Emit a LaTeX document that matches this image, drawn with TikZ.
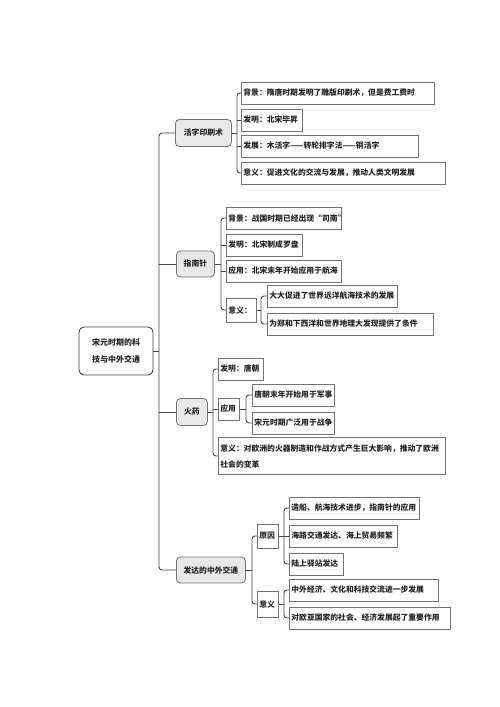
\documentclass[tikz,border=0pt]{standalone}
\usepackage{fontspec}
\setmainfont{Noto Sans CJK SC}
\begin{document}
\begin{tikzpicture}[x=1pt,y=-1pt,
 conn/.style={draw=black!72, line width=0.9pt, rounded corners=3pt},
 leaf/.style={draw=black!55, line width=0.8pt, fill=white, anchor=west, inner xsep=2pt, inner ysep=0pt, minimum height=22pt, align=left, text=black!85, font=\fontsize{7.8}{16}\selectfont\bfseries},
 topic/.style={draw=black!55, line width=0.8pt, fill=black!9, rounded corners=4pt, anchor=west, inner sep=0pt, align=center, text=black!85, font=\fontsize{7.8}{16}\selectfont\bfseries}]
\fill[white] (0,0) rectangle (500,707);
\useasboundingbox (0,0) rectangle (500,707);

% root
\node[draw=black!75, line width=0.9pt, rounded corners=5pt, fill=white, minimum width=74pt, minimum height=48pt, inner sep=0pt, align=center, text=black!85, font=\fontsize{8}{17}\selectfont\bfseries] (root) at (116,351) {宋元时期的科\\技与中外交通};

% level 1
\node[topic, minimum width=56pt, minimum height=27pt] (L1) at (175,133) {活字印刷术};
\node[topic, minimum width=38pt, minimum height=26pt] (L2) at (176,264) {指南针};
\node[topic, minimum width=31pt, minimum height=27pt] (L3) at (176,412) {火药};
\node[topic, minimum width=69pt, minimum height=26pt] (L4) at (176,570) {发达的中外交通};

% 活字印刷术
\node[leaf, text width=189pt] (a1) at (241,93) {背景：隋唐时期发明了雕版印刷术，但是费工费时};
\node[leaf, text width=57pt] (a2) at (241,120) {发明：北宋毕昇};
\node[leaf, text width=173pt] (a3) at (241,146) {发展：木活字——转轮排字法——铜活字};
\node[leaf, text width=200pt] (a4) at (241,173) {意义：促进文化的交流与发展，推动人类文明发展};

% 指南针
\node[leaf, text width=111pt] (b1) at (226,218) {背景：战国时期已经出现“司南”};
\node[leaf, text width=72pt] (b2) at (226,245) {发明：北宋制成罗盘};
\node[leaf, text width=111pt] (b3) at (226,271) {应用：北宋末年开始应用于航海};
\node[leaf, text width=26pt, minimum height=24pt] (b4) at (226,310) {意义：};
\node[leaf, text width=126pt] (b5) at (267,296) {大大促进了世界远洋航海技术的发展};
\node[leaf, text width=162pt] (b6) at (267,324) {为郑和下西洋和世界地理大发现提供了条件};

% 火药
\node[leaf, text width=41pt] (c1) at (218,369) {发明：唐朝};
\node[leaf, text width=17pt] (c2) at (218,409) {应用};
\node[leaf, text width=78pt] (c3) at (252,395) {唐朝末年开始用于军事};
\node[leaf, text width=78pt] (c4) at (252,423) {宋元时期广泛用于战争};
\node[leaf, text width=223pt, minimum height=37pt] (c5) at (218,456) {意义：对欧洲的火器制造和作战方式产生巨大影响，推动了欧洲\\社会的变革};

% 发达的中外交通
\node[leaf, text width=17pt, minimum height=24pt] (d1) at (257,536) {原因};
\node[leaf, text width=17pt, minimum height=26pt] (d2) at (257,604) {意义};
\node[leaf, text width=126pt] (d3) at (289,508) {造船、航海技术进步，指南针的应用};
\node[leaf, text width=104pt] (d4) at (289,536) {海路交通发达、海上贸易频繁};
\node[leaf, text width=50pt] (d5) at (289,564) {陆上驿站发达};
\node[leaf, text width=145pt] (d6) at (289,590) {中外经济、文化和科技交流进一步发展};
\node[leaf, text width=157pt] (d7) at (289,618) {对欧亚国家的社会、经济发展起了重要作用};

% trunk
\coordinate (t) at (159,0);
\draw[conn] (L1.west) -- (L1.west -| t) -- (L4.west -| t) -- (L4.west);
\draw[conn] (L2.west -| t) -- (L2.west);
\draw[conn] (L3.west -| t) -- (L3.west);
\draw[conn] (root.east) -- (root.east -| t);

% bracket 活字印刷术
\coordinate (k1) at (237,0);
\draw[conn] (a1.west) -- (a1.west -| k1) -- (a4.west -| k1) -- (a4.west);
\draw[conn] (a2.west -| k1) -- (a2.west);
\draw[conn] (a3.west -| k1) -- (a3.west);
\draw[conn] (L1.east) -- (L1.east -| k1);

% bracket 指南针
\coordinate (k2) at (221,0);
\draw[conn] (b1.west) -- (b1.west -| k2) -- (b4.west -| k2) -- (b4.west);
\draw[conn] (b2.west -| k2) -- (b2.west);
\draw[conn] (b3.west -| k2) -- (b3.west);
\draw[conn] (L2.east) -- (L2.east -| k2);
\coordinate (k3) at (261,0);
\draw[conn] (b5.west) -- (b5.west -| k3) -- (b6.west -| k3) -- (b6.west);
\draw[conn] (b4.east) -- (b4.east -| k3);

% bracket 火药
\coordinate (k4) at (213,0);
\draw[conn] (c1.west) -- (c1.west -| k4) -- (c5.west -| k4) -- (c5.west);
\draw[conn] (c2.west -| k4) -- (c2.west);
\draw[conn] (L3.east) -- (L3.east -| k4);
\coordinate (k5) at (246,0);
\draw[conn] (c3.west) -- (c3.west -| k5) -- (c4.west -| k5) -- (c4.west);
\draw[conn] (c2.east) -- (c2.east -| k5);

% bracket 发达的中外交通
\coordinate (k6) at (252,0);
\draw[conn] (d1.west) -- (d1.west -| k6) -- (d2.west -| k6) -- (d2.west);
\draw[conn] (L4.east) -- (L4.east -| k6);
\coordinate (k7) at (284,0);
\draw[conn] (d3.west) -- (d3.west -| k7) -- (d5.west -| k7) -- (d5.west);
\draw[conn] (d4.west -| k7) -- (d4.west);
\draw[conn] (d1.east) -- (d1.east -| k7);
\draw[conn] (d6.west) -- (d6.west -| k7) -- (d7.west -| k7) -- (d7.west);
\draw[conn] (d2.east) -- (d2.east -| k7);
\end{tikzpicture}
\end{document}
